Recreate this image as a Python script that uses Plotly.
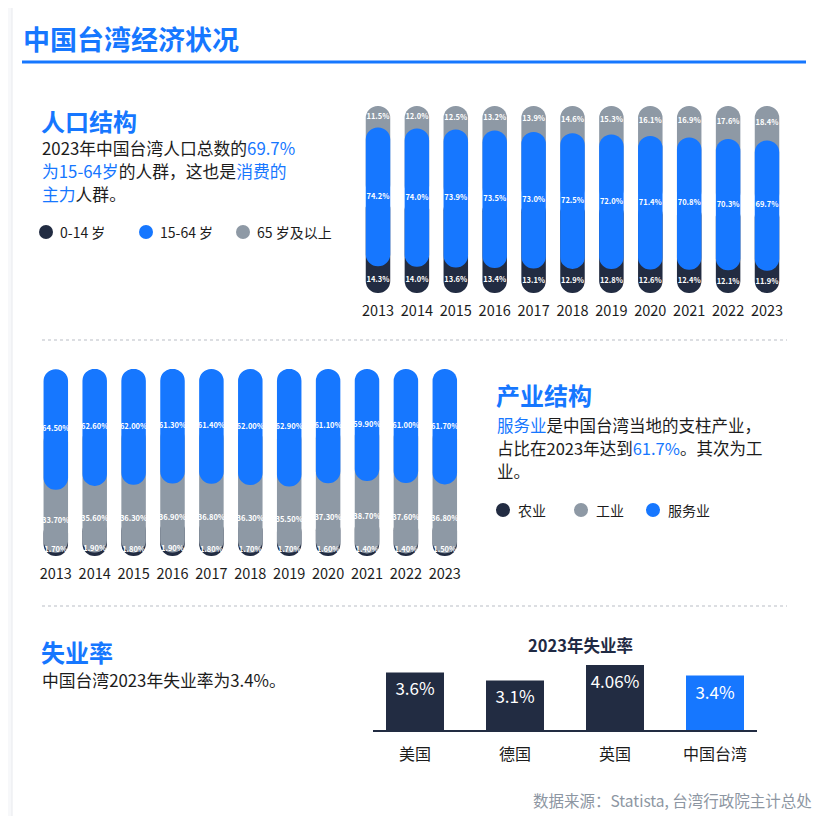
import numpy as np
import plotly.graph_objects as go

# the page body has an 8px margin, so the figure is drawn 8px in from the corner
OFF = 8
W, H = 828 - OFF * 2, 824 - OFF * 2

# --- données ---
years = [2013, 2014, 2015, 2016, 2017, 2018, 2019, 2020, 2021, 2022, 2023]
pop_0_14 = [14.3, 14.0, 13.6, 13.4, 13.1, 12.9, 12.8, 12.6, 12.4, 12.1, 11.9]
pop_15_64 = [74.2, 74.0, 73.9, 73.5, 73.0, 72.5, 72.0, 71.4, 70.8, 70.3, 69.7]
pop_65 = [11.5, 12.0, 12.5, 13.2, 13.9, 14.6, 15.3, 16.1, 16.9, 17.6, 18.4]

agri = [1.7, 1.9, 1.8, 1.9, 1.8, 1.7, 1.7, 1.6, 1.4, 1.4, 1.5]
industry = [33.7, 35.6, 36.3, 36.9, 36.8, 36.3, 35.5, 37.3, 38.7, 37.6, 36.8]
service = [64.5, 62.6, 62.0, 61.3, 61.4, 62.0, 62.9, 61.1, 59.9, 61.0, 61.7]

countries = ["美国", "德国", "英国", "中国台湾"]
unemp = [3.6, 3.1, 4.06, 3.4]
unemp_labels = ["3.6%", "3.1%", "4.06%", "3.4%"]

DARK = "#222c42"
BLUE = "#1677ff"
GREY = "#8e99a5"
TEXT = "#1c1c1c"
FONT = "Noto Sans CJK SC"


def px(x):
    return (x - OFF) / W


def py(y):
    return 1 - (y - OFF) / H


fig = go.Figure()


def add_bar(xa, ya, lo, hi, color):
    fig.add_trace(go.Bar(
        x=years, y=hi - lo, base=lo, xaxis=xa, yaxis=ya,
        width=0.63, marker=dict(color=color, line=dict(width=0),
                                cornerradius="50%"),
        hoverinfo="skip", showlegend=False,
    ))


def add_labels(xa, ya, yvals, texts):
    fig.add_trace(go.Scatter(
        x=years, y=yvals, text=texts, mode="text", xaxis=xa, yaxis=ya,
        textfont=dict(size=7.5, color="white", family=FONT, weight=600),
        hoverinfo="skip", showlegend=False, cliponaxis=False,
    ))


# ---- 1. population ----
d = np.array(pop_0_14)
b = np.array(pop_15_64)
g = np.array(pop_65)
b_mid = d + b / 2

add_bar("x", "y", 0 * d, b_mid, DARK)        # 0-14
add_bar("x", "y", b_mid, 0 * d + 100, GREY)  # 65+
add_bar("x", "y", d, d + b, BLUE)            # 15-64

add_labels("x", "y", d / 2, [f"{v:.1f}%" for v in d])
add_labels("x", "y", b_mid, [f"{v:.1f}%" for v in b])
add_labels("x", "y", d + b + g / 2, [f"{v:.1f}%" for v in g])

# ---- 2. industrie ----
a = np.array(agri)
i = np.array(industry)
s = np.array(service)
i_mid = a + i / 2
s_mid = a + i + s / 2

add_bar("x2", "y2", 0 * a, i_mid, DARK)      # 农业
add_bar("x2", "y2", a, s_mid, GREY)          # 工业
add_bar("x2", "y2", a + i, a + i + s, BLUE)  # 服务业

add_labels("x2", "y2", a / 2 + 2.5, [f"{v:.2f}%" for v in a])
add_labels("x2", "y2", i_mid, [f"{v:.2f}%" for v in i])
add_labels("x2", "y2", s_mid, [f"{v:.2f}%" for v in s])

# ---- 3. chômage ----
fig.add_trace(go.Bar(
    x=countries, y=unemp, xaxis="x3", yaxis="y3", width=0.58,
    marker=dict(color=[DARK, DARK, DARK, BLUE], line=dict(width=0)),
    text=unemp_labels, textposition="inside", insidetextanchor="end",
    textangle=0, constraintext="none",
    textfont=dict(size=17, color="white", family=FONT),
    hoverinfo="skip", showlegend=False,
))

year_ticks = dict(tickvals=years, ticktext=[str(y) for y in years],
                  tickfont=dict(size=14.5, color=TEXT, family=FONT),
                  showgrid=False, zeroline=False, showline=False, ticks="",
                  ticklabelstandoff=7, fixedrange=True)

fig.update_layout(
    width=W, height=H,
    margin=dict(l=0, r=0, t=0, b=0),
    paper_bgcolor="#f7f8fa", plot_bgcolor="rgba(0,0,0,0)",
    barmode="overlay",
    font=dict(family=FONT, color=TEXT),
    xaxis=dict(domain=[px(358.55), px(786.45)], range=[2012.5, 2023.5],
               anchor="y", **year_ticks),
    yaxis=dict(domain=[py(293), py(106)], range=[0, 100], visible=False,
               anchor="x"),
    xaxis2=dict(domain=[px(36.35), px(464.25)], range=[2012.5, 2023.5],
                anchor="y2", **year_ticks),
    yaxis2=dict(domain=[py(556), py(369)], range=[0, 100], visible=False,
                anchor="x2"),
    xaxis3=dict(domain=[px(373), px(757)], range=[-0.42, 3.42], anchor="y3",
                showline=True, linecolor=DARK, linewidth=1.5, showgrid=False,
                zeroline=False, ticks="", ticklabelstandoff=9,
                tickfont=dict(size=16, color=TEXT, family=FONT)),
    yaxis3=dict(domain=[py(730), py(650)], range=[0, 5], visible=False,
                anchor="x3"),
)

# carte blanche, traits
shapes = [
    dict(type="rect", xref="paper", yref="paper", x0=px(12), x1=px(822),
         y0=py(818), y1=py(2), fillcolor="white",
         line=dict(color="#e8eaee", width=1), layer="below"),
    dict(type="line", xref="paper", yref="paper", x0=px(22), x1=px(806),
         y0=py(62), y1=py(62), line=dict(color=BLUE, width=3)),
    dict(type="line", xref="paper", yref="paper", x0=px(42), x1=px(787),
         y0=py(340), y1=py(340), line=dict(color="#b9bec6", width=1.2, dash="dot")),
    dict(type="line", xref="paper", yref="paper", x0=px(42), x1=px(787),
         y0=py(606), y1=py(606), line=dict(color="#b9bec6", width=1.2, dash="dot")),
]

legend_dots = [(46, 232, DARK), (146, 232, BLUE), (243, 232, GREY),
               (503, 510, DARK), (581, 510, GREY), (653, 510, BLUE)]
for cx, cy, col in legend_dots:
    shapes.append(dict(type="circle", xref="paper", yref="paper",
                       xsizemode="pixel", ysizemode="pixel",
                       xanchor=px(cx), yanchor=py(cy),
                       x0=-7, x1=7, y0=-7, y1=7,
                       fillcolor=col, line=dict(width=0)))
fig.update_layout(shapes=shapes)


def blue(t):
    return f'<span style="color:{BLUE}">{t}</span>'


def note(x, y, text, size, color=TEXT, weight=400, anchor="left"):
    fig.add_annotation(x=px(x), y=py(y), xref="paper", yref="paper",
                       text=text, showarrow=False, xanchor=anchor,
                       yanchor="middle", align=anchor, borderpad=0,
                       font=dict(size=size, color=color, family=FONT,
                                 weight=weight))


note(22, 38, "中国台湾经济状况", 27, BLUE, 700)

note(40, 120, "人口结构", 24, BLUE, 700)
note(41, 148, "2023年中国台湾人口总数的" + blue("69.7%"), 16.8)
note(41, 171, blue("为15-64岁") + "的人群，这也是" + blue("消费的"), 16.8)
note(41, 194, blue("主力") + "人群。", 16.8)
note(59, 232, "0-14 岁", 14)
note(159, 232, "15-64 岁", 14)
note(256, 232, "65 岁及以上", 14)

note(495, 394, "产业结构", 24, BLUE, 700)
note(496, 425, blue("服务业") + "是中国台湾当地的支柱产业，", 16.5)
note(496, 448, "占比在2023年达到" + blue("61.7%") + "。其次为工", 16.5)
note(496, 471, "业。", 16.5)
note(517, 510, "农业", 14)
note(595, 510, "工业", 14)
note(667, 510, "服务业", 14)

note(40, 651, "失业率", 24, BLUE, 700)
note(41, 680, "中国台湾2023年失业率为3.4%。", 16.8)
note(580, 645, "2023年失业率", 16.5, "#1f2a44", 700, "center")

note(813, 800, "数据来源：Statista, 台湾行政院主计总处", 15.5, "#8d96a2", 400, "right")

fig.write_html("out.html")
